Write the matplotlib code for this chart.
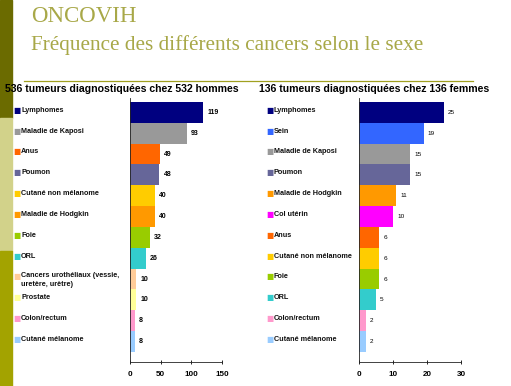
import matplotlib.pyplot as plt
from matplotlib.patches import Rectangle
from matplotlib.lines import Line2D
from matplotlib.transforms import blended_transform_factory

# hommes
men_labels = ['Lymphomes', 'Maladie de Kaposi', 'Anus', 'Poumon', 'Cutané non mélanome',
              'Maladie de Hodgkin', 'Foie', 'ORL', 'Cancers urothéliaux (vessie,\nuretère, urètre)',
              'Prostate', 'Colon/rectum', 'Cutané mélanome']
men_values = [119, 93, 49, 48, 40, 40, 32, 26, 10, 10, 8, 8]
men_colors = ['#000080', '#999999', '#ff6600', '#666699', '#ffcc00', '#ff9900',
              '#99cc00', '#33cccc', '#ffcc99', '#ffff99', '#ff99cc', '#99ccff']

# femmes
women_labels = ['Lymphomes', 'Sein', 'Maladie de Kaposi', 'Poumon', 'Maladie de Hodgkin',
                'Col utérin', 'Anus', 'Cutané non mélanome', 'Foie', 'ORL',
                'Colon/rectum', 'Cutané mélanome']
women_values = [25, 19, 15, 15, 11, 10, 6, 6, 6, 5, 2, 2]
women_colors = ['#000080', '#3366ff', '#999999', '#666699', '#ff9900', '#ff00ff',
                '#ff6600', '#ffcc00', '#99cc00', '#33cccc', '#ff99cc', '#99ccff']

W, H = 511, 386
fig = plt.figure(figsize=(W / 100, H / 100), dpi=100)
fig.patch.set_facecolor('white')


def fx(px):
    return px / W


def fy(py):
    return 1 - py / H


# bande verticale a gauche
fig.patches.append(Rectangle((0, fy(118)), fx(12), 118 / H, transform=fig.transFigure,
                             color='#6b6b00', zorder=0))
fig.patches.append(Rectangle((0, fy(251)), fx(12), (251 - 118) / H, transform=fig.transFigure,
                             color='#d2d28a', zorder=0))
fig.patches.append(Rectangle((0, 0), fx(12), (386 - 251) / H, transform=fig.transFigure,
                             color='#a3a300', zorder=0))

title_col = '#a8a848'
fig.text(fx(31), fy(17), 'ONCOVIH', fontsize=16.5, family='Liberation Serif', color=title_col,
         va='center', ha='left')
fig.text(fx(31), fy(45), 'Fréquence des différents cancers selon le sexe', fontsize=15.3,
         family='Liberation Serif', color=title_col, va='center', ha='left')
fig.lines.append(Line2D([fx(24), fx(473)], [fy(81), fy(81)], transform=fig.transFigure,
                        color='#a0a020', lw=0.9))

fig.text(fx(122), fy(89), '536 tumeurs diagnostiquées chez 532 hommes', fontsize=7.6,
         family='Liberation Sans', weight='bold', ha='center', va='center')
fig.text(fx(374), fy(89), '136 tumeurs diagnostiquées chez 136 femmes', fontsize=7.6,
         family='Liberation Sans', weight='bold', ha='center', va='center')


def panel(x0, x1, labels, values, colors, xmax, step, sq_x, txt_x, val_bold):
    ax = fig.add_axes([fx(x0), fy(362), fx(x1 - x0), (362 - 98) / H])
    n = len(values)
    ax.barh(range(n), values, height=1.0, color=colors, edgecolor='none')
    ax.set_ylim(n - 0.5 + 0.48, -0.69)
    ax.set_xlim(0, xmax)
    ax.set_xticks(range(0, xmax + 1, step))
    ax.set_yticks([])
    for s in ['top', 'right']:
        ax.spines[s].set_visible(False)
    for s in ['left', 'bottom']:
        ax.spines[s].set_linewidth(0.6)
        ax.spines[s].set_color('#222222')
    ax.tick_params(axis='x', length=3, width=0.6, direction='inout', labelsize=5.8, pad=5)
    for t in ax.get_xticklabels():
        t.set_fontweight('bold')
        t.set_family('Liberation Sans')
    for i, v in enumerate(values):
        ax.annotate(str(v), (v, i), xytext=(3, 0), textcoords='offset points',
                    fontsize=5 if val_bold else 4.6, weight='bold' if val_bold else 'normal',
                    family='Liberation Sans', va='center', ha='left')
    # pseudo-legende alignee sur les barres
    tr = blended_transform_factory(fig.transFigure, ax.transData)
    for i, (lab, c) in enumerate(zip(labels, colors)):
        ax.text(fx(sq_x), i - 0.1, '\u25a0', transform=tr, color=c, fontsize=5.5,
                va='center', ha='left', family='DejaVu Sans')
        if '\n' in lab:
            ax.text(fx(txt_x), i - 0.32, lab, transform=tr, fontsize=5.2, weight='bold',
                    family='Liberation Sans', va='top', ha='left', linespacing=1.25,
                    color='#111111')
        else:
            ax.text(fx(txt_x), i - 0.1, lab, transform=tr, fontsize=5.2, weight='bold',
                    family='Liberation Sans', va='center', ha='left', color='#111111')
    return ax


panel(130, 222, men_labels, men_values, men_colors, 150, 50, 13, 21, True)
panel(359, 461, women_labels, women_values, women_colors, 30, 10, 266, 274, False)

fig.savefig('out.png', dpi=100)
